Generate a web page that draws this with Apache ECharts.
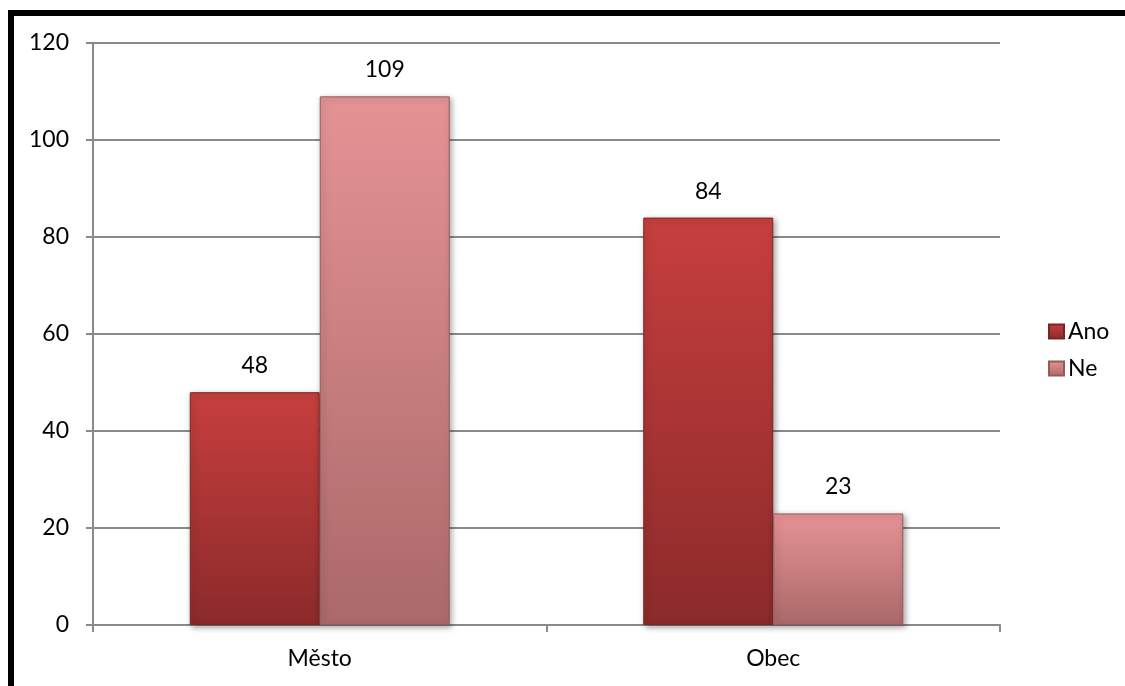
<!DOCTYPE html>
<html>
<head>
<meta charset="utf-8">
<script src="https://cdn.jsdelivr.net/npm/echarts@6/dist/echarts.min.js"></script>
<style>
html,body{margin:0;padding:0;background:#fff;}
#chart{width:1125px;height:686px;}
</style>
</head>
<body>
<div id="chart"></div>
<script>
const categories = ['Město', 'Obec'];
const seriesNames = ['Ano', 'Ne'];
const anoValues = [48, 84];
const neValues = [109, 23];
const yTicks = [0, 20, 40, 60, 80, 100, 120];

const FONT = 'Lato';
const FS = 23;
const chart = echarts.init(document.getElementById('chart'));

function grad(top, bottom) {
  return new echarts.graphic.LinearGradient(0, 0, 0, 1, [
    { offset: 0, color: top },
    { offset: 1, color: bottom }
  ]);
}

const labelStyle = {
  show: true,
  position: 'top',
  distance: 15,
  color: '#000',
  fontFamily: FONT,
  fontSize: FS
};

chart.setOption({
  animation: false,
  backgroundColor: '#fff',
  graphic: [
    { type: 'rect', shape: { x: 8, y: 10, width: 1117, height: 6 }, style: { fill: '#000' }, z: 100 },
    { type: 'rect', shape: { x: 8, y: 10, width: 6, height: 676 }, style: { fill: '#000' }, z: 100 }
  ],
  grid: { left: 93, right: 125, top: 43, bottom: 61, containLabel: false },
  legend: {
    orient: 'vertical',
    left: 1043,
    top: 315,
    itemWidth: 15,
    itemHeight: 14,
    itemGap: 14,
    icon: 'rect',
    data: seriesNames,
    textStyle: { fontFamily: FONT, fontSize: FS, color: '#000', padding: [0, 0, 0, -1] }
  },
  xAxis: {
    type: 'category',
    data: categories,
    axisLine: { show: true, lineStyle: { color: '#8a8a8a', width: 2 } },
    axisTick: { show: true, length: 7, alignWithLabel: false, lineStyle: { color: '#8a8a8a', width: 2 } },
    axisLabel: { fontFamily: FONT, fontSize: FS, color: '#000', margin: 22 }
  },
  yAxis: {
    type: 'value',
    min: yTicks[0],
    max: yTicks[yTicks.length - 1],
    interval: 20,
    axisLine: { show: true, lineStyle: { color: '#8a8a8a', width: 2 } },
    axisTick: { show: true, length: 7, lineStyle: { color: '#8a8a8a', width: 2 } },
    splitLine: { show: true, lineStyle: { color: '#8a8a8a', width: 2 } },
    axisLabel: { fontFamily: FONT, fontSize: FS, color: '#000', margin: 24 }
  },
  series: [
    {
      name: seriesNames[0],
      type: 'bar',
      data: anoValues,
      barWidth: 130,
      barGap: '0%',
      itemStyle: {
        color: grad('#c63f3e', '#8c2a2a'),
        borderColor: '#7a2424',
        borderWidth: 1,
        shadowColor: 'rgba(0,0,0,0.35)',
        shadowBlur: 6,
        shadowOffsetX: 2,
        shadowOffsetY: 2
      },
      label: labelStyle
    },
    {
      name: seriesNames[1],
      type: 'bar',
      data: neValues,
      barWidth: 130,
      barGap: '0%',
      itemStyle: {
        color: grad('#e59395', '#ab6969'),
        borderColor: '#955a5a',
        borderWidth: 1,
        shadowColor: 'rgba(0,0,0,0.35)',
        shadowBlur: 6,
        shadowOffsetX: 2,
        shadowOffsetY: 2
      },
      label: labelStyle
    }
  ]
});
</script>
</body>
</html>
